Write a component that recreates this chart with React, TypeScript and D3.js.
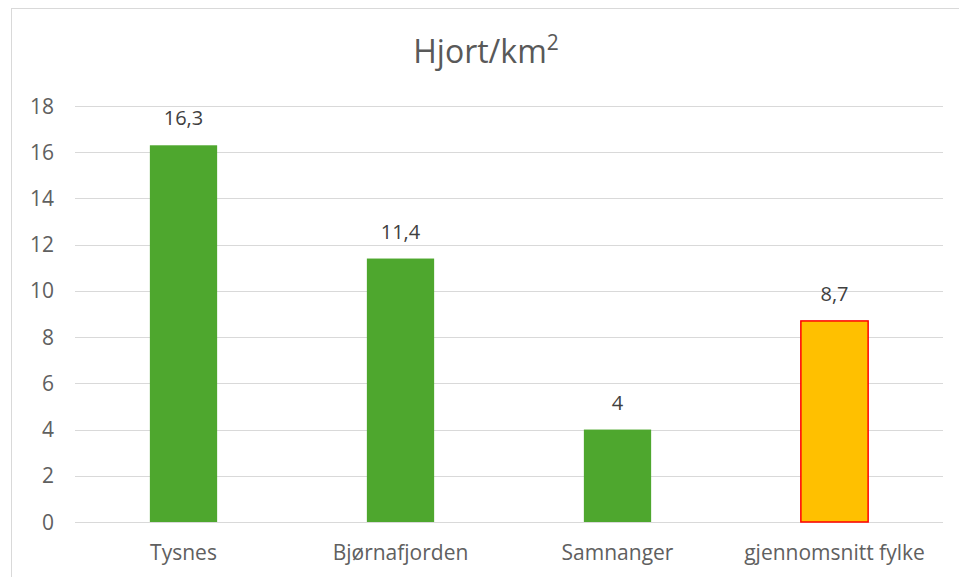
import { useEffect, useRef } from "react";
import * as d3 from "d3";

const categories = ["Tysnes", "Bjørnafjorden", "Samnanger", "gjennomsnitt fylke"];
const values = [16.3, 11.4, 4, 8.7];
const labels = ["16,3", "11,4", "4", "8,7"];
const yTicks = [0, 2, 4, 6, 8, 10, 12, 14, 16, 18];

const W = 959;
const H = 577;

export default function App() {
  const svgRef = useRef<SVGSVGElement>(null);

  useEffect(() => {
    if (!svgRef.current) return;
    const svg = d3.select(svgRef.current);
    svg.selectAll("*").remove();

    const left = 75, right = 943, top = 106, bottom = 522;
    const font = "'Open Sans', 'DejaVu Sans', sans-serif";

    // frame
    svg.append("rect")
      .attr("x", 11.5).attr("y", 8.5)
      .attr("width", W).attr("height", H)
      .attr("fill", "#fff").attr("stroke", "#d9d9d9");

    const x = d3.scaleBand<string>().domain(categories).range([left, right]).paddingInner(0.69).paddingOuter(0.345);
    const y = d3.scaleLinear().domain([0, 18]).range([bottom, top]);

    // gridlines
    svg.append("g").selectAll("line")
      .data(yTicks)
      .join("line")
      .attr("x1", left).attr("x2", right)
      .attr("y1", (d) => Math.round(y(d)) + 0.5).attr("y2", (d) => Math.round(y(d)) + 0.5)
      .attr("stroke", "#d9d9d9").attr("stroke-width", 1);

    // y tick labels
    svg.append("g").selectAll("text")
      .data(yTicks)
      .join("text")
      .attr("x", 54).attr("y", (d) => y(d))
      .attr("dy", "0.36em")
      .attr("text-anchor", "end")
      .attr("font-family", font).attr("font-size", 21)
      .attr("fill", "#606060")
      .text((d) => d);

    // bars
    svg.append("g").selectAll("rect")
      .data(categories)
      .join("rect")
      .attr("x", (d) => x(d)!)
      .attr("y", (_, i) => y(values[i]))
      .attr("width", x.bandwidth())
      .attr("height", (_, i) => bottom - y(values[i]))
      .attr("fill", (_, i) => (i === 3 ? "#ffc000" : "#4ea72e"))
      .attr("stroke", (_, i) => (i === 3 ? "#ff0000" : "none"))
      .attr("stroke-width", 1.5);

    // value labels
    svg.append("g").selectAll("text")
      .data(categories)
      .join("text")
      .attr("x", (d) => x(d)! + x.bandwidth() / 2)
      .attr("y", (_, i) => y(values[i]) - 20)
      .attr("text-anchor", "middle")
      .attr("font-family", font).attr("font-size", 20)
      .attr("fill", "#404040")
      .text((_, i) => labels[i]);

    // category labels
    svg.append("g").selectAll("text")
      .data(categories)
      .join("text")
      .attr("x", (d) => x(d)! + x.bandwidth() / 2)
      .attr("y", 560)
      .attr("text-anchor", "middle")
      .attr("font-family", font).attr("font-size", 21)
      .attr("fill", "#606060")
      .text((d) => d);

    // title
    const title = svg.append("text")
      .attr("x", 486).attr("y", 63)
      .attr("text-anchor", "middle")
      .attr("font-family", font).attr("font-size", 32)
      .attr("fill", "#595959");
    title.append("tspan").text("Hjort/km");
    title.append("tspan").attr("font-size", 21).attr("dy", -13).text("2");
  }, []);

  return (
    <svg
      ref={svgRef}
      width={W}
      height={H}
      style={{ position: "absolute", left: 0, top: 0, background: "#fff" }}
    />
  );
}
